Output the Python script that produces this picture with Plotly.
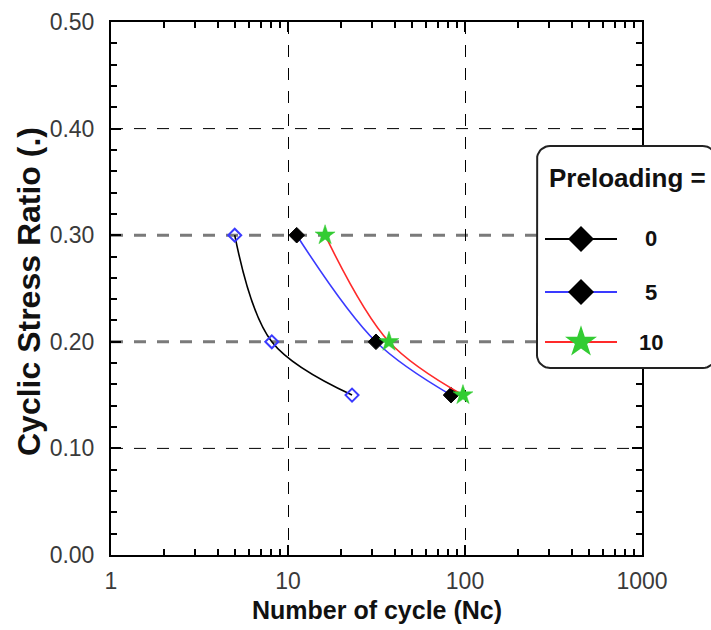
import numpy as np
import plotly.graph_objects as go

# Number of cycles to reach failure for each preloading level
csr = [0.30, 0.20, 0.15]
nc_pre0 = [5.0, 8.1, 23.0]
nc_pre5 = [11.2, 31.4, 83.4]
nc_pre10 = [16.2, 37.2, 97.4]
legend_labels = ["0", "5", "10"]

x_ticks = [1, 10, 100, 1000]
x_ticktext = ["1", "10", "100", "1000"]
y_ticks = [0.0, 0.1, 0.2, 0.3, 0.4, 0.5]
y_grid_thin = [0.1, 0.4]
y_grid_bold = [0.2, 0.3]

W, H = 711, 630
ML, MR, MT, MB = 111, 0, 22, 75
PW, PH = W - ML - MR, H - MT - MB
X_RIGHT = 642  # right edge of the main axes, in pixels

FONT = "Liberation Sans"
BLUE = "#3a3aff"
RED = "#ff2a2a"
GREEN = "#33cc33"
DASH = "12px,11px"

fig = go.Figure()

# ---- data series -------------------------------------------------------
series = [
    dict(x=nc_pre0, line=dict(color="black", width=1.6),
         marker=dict(symbol="diamond-open", size=10, color=BLUE,
                     line=dict(color=BLUE, width=2))),
    dict(x=nc_pre5, line=dict(color=BLUE, width=1.6),
         marker=dict(symbol="diamond", size=12, color="black",
                     line=dict(color="black", width=1))),
    dict(x=nc_pre10, line=dict(color=RED, width=1.6),
         marker=dict(symbol="star", size=15, color=GREEN,
                     line=dict(color=GREEN, width=0.5))),
]
for s, name in zip(series, legend_labels):
    fig.add_trace(go.Scatter(
        x=s["x"], y=csr, mode="lines+markers", name=name,
        line=dict(shape="spline", smoothing=1.0, **s["line"]),
        marker=s["marker"], showlegend=False,
        xaxis="x", yaxis="y",
    ))

# ---- legend panel drawn on a pixel-scaled helper subplot ----------------
x2_dom = (0.6, 1.0)
y2_dom = (0.2, 0.9)
x2_range = [ML + PW * x2_dom[0], ML + PW * x2_dom[1]]
y2_range = [MT + PH * (1 - y2_dom[0]), MT + PH * (1 - y2_dom[1])]


def rounded_rect(x0, y0, x1, y1, r, n=10):
    xs, ys = [], []
    corners = [
        (x1 - r, y0 + r, -np.pi / 2, 0.0),
        (x1 - r, y1 - r, 0.0, np.pi / 2),
        (x0 + r, y1 - r, np.pi / 2, np.pi),
        (x0 + r, y0 + r, np.pi, 1.5 * np.pi),
    ]
    for cx, cy, a0, a1 in corners:
        t = np.linspace(a0, a1, n)
        xs.extend(cx + r * np.cos(t))
        ys.extend(cy + r * np.sin(t))
    xs.append(xs[0])
    ys.append(ys[0])
    return xs, ys


bx, by = rounded_rect(537, 146, 716, 368, 13)
fig.add_trace(go.Scatter(
    x=bx, y=by, mode="lines", fill="toself", fillcolor="white",
    line=dict(color="#222", width=2), hoverinfo="skip", showlegend=False,
    xaxis="x2", yaxis="y2",
))

legend_rows = [239, 292, 342]
legend_styles = [
    dict(line="black", symbol="diamond", size=20, color="black"),
    dict(line=BLUE, symbol="diamond", size=20, color="black"),
    dict(line=RED, symbol="star", size=24, color=GREEN),
]
for row, st, lab in zip(legend_rows, legend_styles, legend_labels):
    fig.add_trace(go.Scatter(
        x=[545, 617], y=[row, row], mode="lines",
        line=dict(color=st["line"], width=2), hoverinfo="skip",
        showlegend=False, xaxis="x2", yaxis="y2",
    ))
    fig.add_trace(go.Scatter(
        x=[581], y=[row], mode="markers",
        marker=dict(symbol=st["symbol"], size=st["size"], color=st["color"],
                    line=dict(width=0)),
        hoverinfo="skip", showlegend=False, xaxis="x2", yaxis="y2",
    ))
    fig.add_annotation(
        x=651, y=row, xref="x2", yref="y2", text=f"<b>{lab}</b>",
        showarrow=False, xanchor="center", yanchor="middle",
        font=dict(family=FONT, size=22, color="#111"),
    )

fig.add_annotation(
    x=547, y=178, xref="x2", yref="y2", text="<b>Preloading =</b>",
    showarrow=False, xanchor="left", yanchor="middle",
    font=dict(family=FONT, size=26, color="#111"),
)

# ---- horizontal dashed reference lines ------------------------------------
for yv in y_grid_thin:
    fig.add_shape(
        type="line", xref="x domain", yref="y", x0=0, x1=1, y0=yv, y1=yv,
        line=dict(color="black", width=1, dash=DASH), layer="below",
    )
for yv in y_grid_bold:
    fig.add_shape(
        type="line", xref="x domain", yref="y", x0=0, x1=1, y0=yv, y1=yv,
        line=dict(color="#7a7a7a", width=3, dash=DASH), layer="below",
    )

# ---- axis titles ---------------------------------------------------------
fig.add_annotation(
    x=(X_RIGHT + ML) / 2, y=610, xref="paper", yref="paper",
    text="<b>Number of cycle (Nc)</b>", showarrow=False,
    xanchor="center", yanchor="middle",
    font=dict(family=FONT, size=25, color="#111"),
)
fig.add_annotation(
    x=29, y=292, xref="paper", yref="paper",
    text="<b>Cyclic Stress Ratio (.)</b>", showarrow=False, textangle=-90,
    xanchor="center", yanchor="middle",
    font=dict(family=FONT, size=32, color="#111"),
)
# convert the two title positions from pixels to paper units
for ann in fig.layout.annotations[-2:]:
    ann.x = (ann.x - ML) / PW
    ann.y = (H - MB - ann.y) / PH

axis_common = dict(
    showline=True, linecolor="black", linewidth=2, mirror="ticks",
    ticks="inside", ticklen=10, tickwidth=2, tickcolor="black",
    zeroline=False, automargin=False,
    tickfont=dict(family=FONT, size=23, color="#3a3a3a"),
)

minor_x = [m * 10 ** k for k in range(3) for m in range(2, 10)]

fig.update_layout(
    width=W, height=H,
    margin=dict(l=ML, r=MR, t=MT, b=MB, pad=0),
    paper_bgcolor="white", plot_bgcolor="rgba(0,0,0,0)",
    showlegend=False,
    xaxis=dict(
        type="log", range=[0, 3], domain=[0, (X_RIGHT - ML) / PW],
        tickmode="array", tickvals=x_ticks, ticktext=x_ticktext,
        ticklabelstandoff=4,
        showgrid=True, gridcolor="black", gridwidth=1, griddash=DASH,
        minor=dict(tickmode="array", tickvals=minor_x, ticks="inside",
                   ticklen=6, tickwidth=2, tickcolor="black", showgrid=False),
        **axis_common,
    ),
    yaxis=dict(
        range=[0, 0.5], tickmode="array", tickvals=y_ticks, tickformat=".2f",
        ticklabelstandoff=10, showgrid=False,
        minor=dict(tickmode="linear", tick0=0, dtick=0.02, ticks="inside",
                   ticklen=6, tickwidth=2, tickcolor="black", showgrid=False),
        **axis_common,
    ),
    xaxis2=dict(domain=list(x2_dom), range=x2_range, visible=False,
                fixedrange=True, anchor="y2"),
    yaxis2=dict(domain=list(y2_dom), range=y2_range, visible=False,
                fixedrange=True, anchor="x2"),
)

fig.write_html("out.html")
